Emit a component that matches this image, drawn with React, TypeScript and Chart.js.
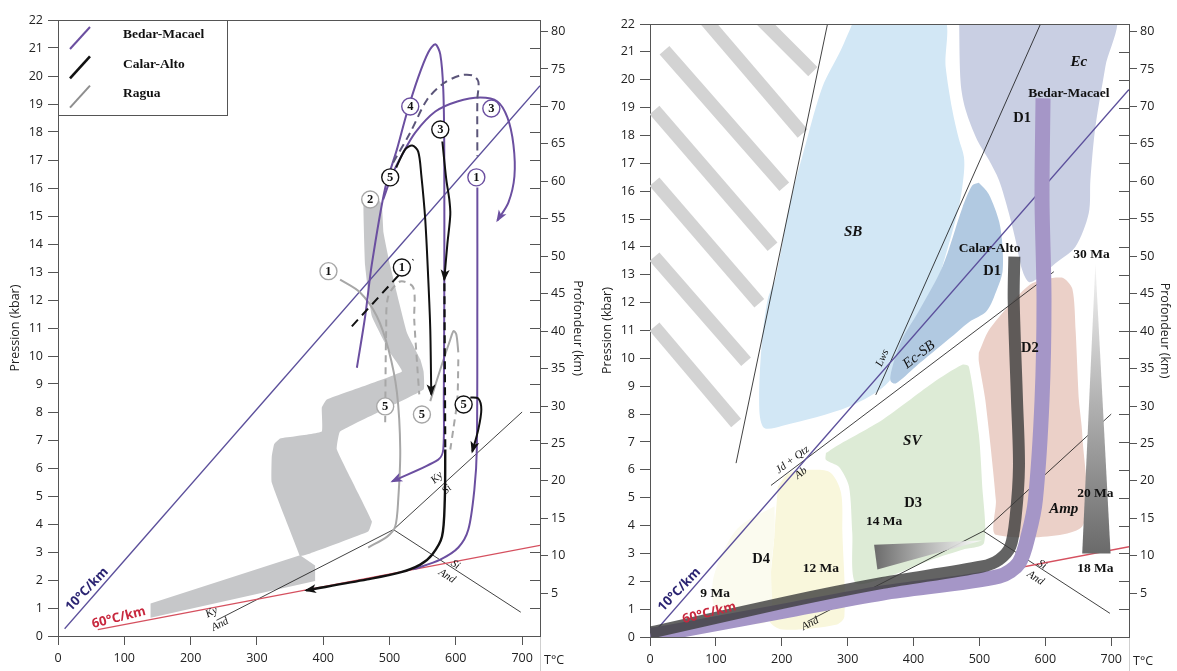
import React, { useEffect, useRef } from "react";
import { Chart, registerables } from "chart.js";

Chart.register(...registerables);

const SANS = '"Open Sans", "Noto Sans", "DejaVu Sans", sans-serif';
const SERIF = '"Liberation Serif", "DejaVu Serif", serif';

// ---------------- axes ----------------
const temperatureTicks = [0, 100, 200, 300, 400, 500, 600, 700];
const pressureTicks = [0, 1, 2, 3, 4, 5, 6, 7, 8, 9, 10, 11, 12, 13, 14, 15, 16, 17, 18, 19, 20, 21, 22];
const depthTicks = [5, 10, 15, 20, 25, 30, 35, 40, 45, 50, 55, 60, 65, 70, 75, 80];
const temperatureMax = 727;
const pressureMax = 22;

// ---------------- shared reference lines (T °C, P kbar) ----------------
const geotherm10 = [[10, 0.26], [727, 19.65]];
const geotherm60 = [[60, 0.23], [727, 3.24]];
const kyAndLine = [[239, 0.56], [506, 3.8]];
const kySilLine = [[506, 3.8], [700, 8.0]];
const andSilLine = [[506, 3.8], [698, 0.85]];

// ---------------- left panel: P-T paths ----------------
const raguaLowerBand = [[139.6, 0.65], [139.6, 1.16], [365.1, 2.88], [387.8, 2.52], [387.8, 1.96]];
const raguaUpperField = [
  [365.1, 2.85], [322.4, 5.48], [322.4, 6.4], [326, 6.85], [335, 7.05], [357.6, 7.13], [397.9, 7.3], [397.9, 8.16],
  [405.4, 8.45], [518.7, 9.45], [501.1, 10.11], [473.4, 11.42], [463.3, 13.21], [460.7, 15.35],
  [464.8, 15.59], [483.0, 15.59], [488.5, 15.41], [491.0, 14.4], [501.1, 13.21], [526.3, 10.83],
  [546.4, 9.88], [551.4, 9.45], [551.4, 8.8], [425.5, 7.3], [420.6, 6.66], [473.4, 4.1], [467.8, 3.73], [380.2, 2.95],
];

const bedarPath4 = [
  [450.8, 9.58], [463.3, 11.42], [473.3, 13.27], [493.5, 16.0], [511.2, 17.38], [526.3, 18.69], [543.3, 19.95],
  [558.4, 20.84], [569.1, 21.13], [576.6, 20.77], [581.1, 19.52], [582.6, 17.38], [582.6, 12.02], [581.9, 8.45],
  [581.1, 6.66], [573.6, 6.3], [504.1, 5.52],
];
const bedarPath3 = [
  [490.5, 15.59], [504.1, 16.48], [519.2, 17.2], [538.8, 17.98], [569.1, 18.73], [602.3, 19.09], [637.0, 19.23],
  [662.7, 19.09], [677.8, 18.52], [686.9, 17.55], [688.4, 16.41], [679.3, 15.48], [662.7, 14.84],
];
const bedarPath1 = [
  [632.5, 16.02], [632.5, 12.02], [631.7, 6.66], [628.0, 5.23], [618.9, 3.8], [603.8, 3.16], [576.6, 2.73], [535.8, 2.38],
];
const bedarDashed = [
  [505.6, 16.91], [531.3, 17.98], [556.9, 19.16], [581.1, 19.73], [606.8, 20.02], [625.0, 20.02], [634.0, 19.8],
  [632.5, 19.16], [632.5, 17.13],
];

const calarPath5 = [
  [510.1, 16.73], [523.7, 17.38], [534.3, 17.52], [543.3, 17.3], [547.9, 16.48], [553.9, 14.88], [558.5, 12.73],
  [561.5, 10.95], [563.0, 8.63],
];
const calarPath3a = [[579.7, 17.66], [585.7, 16.3], [590.2, 15.59], [591.7, 15.05], [587.2, 13.98], [582.6, 12.73]];
const calarPath3Dashed = [[582.8, 12.6], [584.1, 6.66]];
const calarPath3b = [
  [584.1, 6.66], [583.4, 4.88], [579.2, 3.55], [564.5, 2.91], [546.4, 2.55], [516.2, 2.27], [466.3, 2.02], [374.2, 1.63],
];
const calarHook = [[621.9, 8.52], [634.0, 8.48], [638.5, 8.09], [634.0, 7.38], [624.9, 6.59]];
const calarDashed1 = [[443.2, 11.06], [535.8, 13.45]];

const raguaPath1 = [
  [425.5, 12.73], [455.7, 12.27], [480.9, 11.42], [498.5, 10.23], [511.2, 8.7], [516.2, 6.66], [513.2, 4.88],
  [508.6, 3.91], [496.5, 3.55], [467.8, 3.16],
];
const raguaDashed1 = [
  [493.5, 7.63], [495.0, 10.95], [498.1, 12.13], [516.2, 12.66], [535.8, 12.45], [537.3, 11.3], [541.9, 9.63], [544.9, 8.63],
];
const raguaPath5 = [[561.5, 8.39], [576.6, 9.52], [591.7, 10.59], [596.7, 10.89], [600.8, 10.77], [603.8, 10.13]];
const raguaDashed5 = [[603.8, 9.88], [602.3, 8.45], [596.2, 7.38], [591.7, 6.66]];

const bedarCircles = [[531.3, 18.91], [653.6, 18.84], [631.0, 16.38]];
const bedarCircleNums = ["4", "3", "1"];
const calarCircles = [[576.6, 18.09], [501.1, 16.38], [518.7, 13.16], [611.8, 8.27]];
const calarCircleNums = ["3", "5", "1", "5"];
const raguaCircles = [[470.9, 15.59], [407.9, 13.03], [493.5, 8.2], [548.9, 7.91]];
const raguaCircleNums = ["2", "1", "5", "5"];

const legendNames = ["Bedar-Macael", "Calar-Alto", "Ragua"];

// ---------------- right panel: facies fields ----------------
const hatchBar1 = [[145.5, 22.7], [247.2, 20.29]];
const hatchBar2 = [[64.1, 22.7], [231.6, 18.07]];
const hatchBar3 = [[22.0, 21.06], [203.8, 16.16]];
const hatchBar4 = [[6.8, 18.91], [186.0, 14.01]];
const hatchBar5 = [[6.8, 16.34], [165.9, 11.98]];
const hatchBar6 = [[6.8, 13.65], [145.8, 9.88]];
const hatchBar7 = [[6.8, 11.14], [130.7, 7.68]];

const fieldSB = [
  [312.4, 22.3], [443.6, 22.3], [448.7, 20.47], [458.7, 18.93], [468.9, 17.86], [476.4, 17.24], [476.4, 16.64],
  [468.9, 15.45], [443.6, 13.29], [413.3, 11.01], [388.1, 10.66], [362.8, 9.17], [302.2, 8.27], [201.2, 7.58],
  [173.5, 7.5], [165.9, 8.16], [168.9, 10.31], [178.5, 12.1], [191.2, 12.93], [211.3, 15.45], [236.6, 17.72],
  [261.8, 19.75], [289.7, 21.07],
];
const fieldEc = [
  [469, 22.3], [703.7, 22.3], [691.1, 20.47], [676, 18.31], [668.4, 16.4], [665.9, 15.21], [645.7, 14.01],
  [615.4, 13.41], [590.2, 12.89], [575, 12.74], [564.8, 13.18], [554.8, 14.25], [544.7, 15.21], [529.5, 16.4],
  [514.4, 17.12], [496.7, 17.83], [479.1, 18.91], [471.5, 19.88],
];
const fieldEcSB = [
  [499, 16.3], [514, 15.9], [530, 14.9], [535, 14.0], [535, 13.1], [527, 12.5], [511, 11.7], [484, 11.3],
  [454, 10.7], [403, 9.7], [373, 9.1], [365, 9.2], [368, 9.7], [383, 10.7], [408, 11.7], [444, 13.3], [474, 15.4], [489, 16.2],
];
const fieldSV = [
  [267, 6.6], [282, 6.84], [353, 7.8], [428, 9.1], [474, 9.77], [484, 9.7], [499, 7.3], [504, 5.5], [507, 3.37],
  [474, 3.13], [428, 2.78], [363, 2.18], [312, 1.94], [307, 3.73], [302, 5.4], [287, 6.1], [267, 6.36],
];
const fieldAmp = [
  [499, 10.2], [514, 11.0], [545, 11.9], [580, 12.7], [625, 12.9], [641, 12.5], [646, 11.0], [651, 8.5],
  [656, 7.3], [656, 3.97], [525, 3.67], [525, 4.9], [509, 8.5], [499, 9.9],
];
const field12Ma = [
  [194, 5.4], [211, 5.88], [252, 6.0], [275, 5.88], [290, 5.17], [292, 3.73], [295, 0.74], [282, 0.44],
  [201, 0.27], [181, 0.62], [189, 3.73],
];
const field9Ma = [
  [189, 4.69], [136, 3.97], [110, 3.02], [95, 1.94], [100, 0.98], [141, 0.5], [181, 0.62], [184, 2.54], [189, 3.73],
];

const boundaryL1 = [[269.4, 22.0], [130.6, 6.24]];
const boundaryLws = [[592.7, 22.0], [342.7, 8.69]];
const boundaryJd = [[183.6, 5.44], [612.9, 13.11]];

const ageTriangle = [[676, 13.4], [699, 3.0], [656, 3.0]];
const ageWedge = [[340.1, 3.31], [503.8, 3.46], [345.1, 2.42]];

const bandBedar = [
  [596.5, 19.33], [595, 15.7], [598, 12.1], [595, 8.5], [585, 4.93], [575, 3.73], [560, 2.66], [530, 2.18],
  [353, 1.58], [201, 0.92], [25, 0.15], [0, 0.05],
];
const bandCalar = [
  [553, 13.65], [552, 12.1], [557, 8.5], [560, 6.12], [555, 4.33], [547, 3.25], [530, 2.78], [504, 2.53],
  [353, 1.94], [201, 1.22], [9, 0.2], [0, 0.16],
];

// ---------------- colours ----------------
const GEO10 = "#5b4f9b";
const GEO60 = "#d5505f";
const NAVY = "#2b2472";
const RED = "#c8283e";
const BEDAR = "#6b4fa0";
const BEDAR_DASH = "#5b5579";
const CALAR = "#111111";
const RAGUA = "#a7a7a7";
const RAGUA_FIELD = "#c6c7c9";

const pts = (arr: number[][]) => arr.map(([x, y]) => ({ x, y }));

function line(data: number[][], color: string, width: number, extra: any = {}) {
  return {
    type: "line", data: pts(data), borderColor: color, borderWidth: width, pointRadius: 0, pointHoverRadius: 0,
    pointHitRadius: 0, fill: false, tension: 0, xAxisID: "x", yAxisID: "y", clip: 0, ...extra,
  };
}
function area(data: number[][], color: any, tension = 0.3) {
  return {
    type: "line", data: pts([...data, data[0]]), borderColor: "rgba(0,0,0,0)", borderWidth: 0, backgroundColor: color,
    fill: "shape", pointRadius: 0, pointHoverRadius: 0, pointHitRadius: 0, tension, xAxisID: "x", yAxisID: "y", clip: 0,
  };
}
function circles(data: number[][], nums: string[], color: string) {
  return {
    type: "line", data: pts(data), showLine: false, pointRadius: 8.5, pointHoverRadius: 8.5, pointBackgroundColor: "#fff",
    pointBorderColor: color, pointBorderWidth: 1.4, nums, xAxisID: "x", yAxisID: "y", clip: 0,
  };
}
function verticalGradient(data: number[][], c0: string, c1: string) {
  const top = Math.max(...data.map((d) => d[1]));
  const bottom = Math.min(...data.map((d) => d[1]));
  return (ctx: any) => {
    const ch = ctx.chart;
    if (!ch.chartArea) return c1;
    const ys = ch.scales.y;
    const g = ch.ctx.createLinearGradient(0, ys.getPixelForValue(top), 0, ys.getPixelForValue(bottom));
    g.addColorStop(0, c0);
    g.addColorStop(1, c1);
    return g;
  };
}
function horizontalGradient(data: number[][], c0: string, c1: string) {
  const left = Math.min(...data.map((d) => d[0]));
  const right = Math.max(...data.map((d) => d[0]));
  return (ctx: any) => {
    const ch = ctx.chart;
    if (!ch.chartArea) return c0;
    const xs = ch.scales.x;
    const g = ch.ctx.createLinearGradient(xs.getPixelForValue(left), 0, xs.getPixelForValue(right), 0);
    g.addColorStop(0, c0);
    g.addColorStop(1, c1);
    return g;
  };
}

const font = (style: string, size: number, family: string) => `${style} ${size}px ${family}`;

// ---------------- plugins ----------------
function labelsPlugin(items: any[]) {
  return {
    id: "textLabels",
    afterDatasetsDraw(chart: any) {
      const { ctx, scales } = chart;
      items.forEach((it) => {
        ctx.save();
        ctx.translate(scales.x.getPixelForValue(it.x), scales.y.getPixelForValue(it.y));
        if (it.rot) ctx.rotate((it.rot * Math.PI) / 180);
        ctx.font = it.font;
        ctx.fillStyle = it.color || "#111";
        ctx.textAlign = "center";
        ctx.textBaseline = "middle";
        ctx.fillText(it.t, 0, 0);
        ctx.restore();
      });
    },
  };
}

const markersPlugin = {
  id: "markers",
  afterDatasetsDraw(chart: any) {
    const { ctx } = chart;
    chart.data.datasets.forEach((ds: any, i: number) => {
      const meta = chart.getDatasetMeta(i);
      if (ds.arrowEnd) {
        const p = meta.data;
        const n = p.length;
        const a = p[n - 1];
        const b = p[n - 2];
        const ang = Math.atan2(a.y - b.y, a.x - b.x);
        ctx.save();
        ctx.translate(a.x, a.y);
        ctx.rotate(ang);
        ctx.fillStyle = ds.borderColor;
        ctx.beginPath();
        ctx.moveTo(2, 0);
        ctx.lineTo(-10, -4.5);
        ctx.lineTo(-7, 0);
        ctx.lineTo(-10, 4.5);
        ctx.closePath();
        ctx.fill();
        ctx.restore();
      }
      if (ds.nums) {
        ctx.save();
        ctx.font = font("bold", 12.5, SERIF);
        ctx.fillStyle = "#111";
        ctx.textAlign = "center";
        ctx.textBaseline = "middle";
        meta.data.forEach((el: any, j: number) => ctx.fillText(ds.nums[j], el.x, el.y + 0.5));
        ctx.restore();
      }
    });
  },
};

const framePlugin = {
  id: "frame",
  afterDraw(chart: any) {
    const { ctx, chartArea: a, scales } = chart;
    ctx.save();
    ctx.strokeStyle = "#555";
    ctx.lineWidth = 1;
    ctx.beginPath();
    ctx.moveTo(a.left, Math.round(a.top) + 0.5);
    ctx.lineTo(a.right, Math.round(a.top) + 0.5);
    pressureTicks.forEach((v) => {
      if (v === 0 || v === pressureMax) return;
      const py = Math.round(scales.y.getPixelForValue(v)) + 0.5;
      ctx.moveTo(a.right - 10, py);
      ctx.lineTo(a.right, py);
    });
    ctx.stroke();
    ctx.strokeStyle = "#cfcfcf";
    ctx.beginPath();
    ctx.moveTo(Math.round(a.right) + 0.5, a.bottom + 1);
    ctx.lineTo(Math.round(a.right) + 0.5, chart.height);
    ctx.stroke();
    ctx.fillStyle = "#222";
    ctx.font = font("", 12.5, SANS);
    ctx.textAlign = "left";
    ctx.textBaseline = "middle";
    ctx.fillText("T°C", a.right + 4, a.bottom + 24);
    ctx.restore();
  },
};

const legendPlugin = {
  id: "legendBox",
  afterDatasetsDraw(chart: any) {
    const { ctx, chartArea: a } = chart;
    const x0 = Math.round(a.left);
    const y0 = Math.round(a.top);
    const colors = [BEDAR, CALAR, "#8e8e8e"];
    const widths = [2, 2.6, 2];
    ctx.save();
    ctx.fillStyle = "#fff";
    ctx.fillRect(x0, y0, 169, 95);
    ctx.strokeStyle = "#555";
    ctx.lineWidth = 1;
    ctx.strokeRect(x0 + 0.5, y0 + 0.5, 169, 95);
    legendNames.forEach((name, i) => {
      const cy = y0 + 18 + i * 29.3;
      ctx.strokeStyle = colors[i];
      ctx.lineWidth = widths[i];
      ctx.beginPath();
      ctx.moveTo(x0 + 12, cy + 11);
      ctx.lineTo(x0 + 32, cy - 11);
      ctx.stroke();
      ctx.fillStyle = "#111";
      ctx.font = font("bold", 13.5, SERIF);
      ctx.textAlign = "left";
      ctx.textBaseline = "middle";
      ctx.fillText(name, x0 + 65, cy - 3);
    });
    ctx.restore();
  },
};

// ---------------- chart config ----------------
function makeScales(g: any) {
  const tickFont = { family: SANS, size: 12.5 };
  return {
    x: {
      type: "linear", position: "bottom", min: 0, max: temperatureMax,
      afterBuildTicks: (s: any) => { s.ticks = temperatureTicks.map((v) => ({ value: v })); },
      afterFit: (s: any) => { s.height = g.xHeight; },
      ticks: { font: tickFont, color: "#222", padding: 6, maxRotation: 0, autoSkip: false },
      grid: { drawOnChartArea: false, drawTicks: true, tickLength: 9, color: "#555" },
      border: { display: true, color: "#555", width: 1 },
    },
    y: {
      type: "linear", position: "left", min: 0, max: pressureMax,
      afterBuildTicks: (s: any) => { s.ticks = pressureTicks.map((v) => ({ value: v })); },
      afterFit: (s: any) => { s.width = g.yWidth; },
      ticks: { font: tickFont, color: "#222", padding: 5, autoSkip: false },
      grid: { drawOnChartArea: false, drawTicks: true, tickLength: 10, color: "#555" },
      border: { display: true, color: "#555", width: 1 },
      title: { display: true, text: "Pression (kbar)", color: "#222", font: { family: SANS, size: 12.5 }, padding: { top: g.yTitlePad, bottom: 0 } },
    },
    yd: {
      type: "linear", position: "right", min: g.depthMin, max: g.depthMax,
      afterBuildTicks: (s: any) => { s.ticks = depthTicks.map((v) => ({ value: v })); },
      afterFit: (s: any) => { s.width = g.ydWidth; },
      ticks: { font: tickFont, color: "#222", padding: 3, autoSkip: false },
      grid: { drawOnChartArea: false, drawTicks: true, tickLength: 8, color: "#555" },
      border: { display: true, color: "#555", width: 1 },
      title: { display: true, text: "Profondeur (km)", color: "#222", font: { family: SANS, size: 12.5 }, padding: { top: g.ydTitlePad, bottom: 0 } },
    },
  };
}

function makeConfig(datasets: any[], g: any, plugins: any[]) {
  return {
    type: "line",
    data: { datasets: datasets.map((d, i) => ({ ...d, order: -i })) },
    options: {
      responsive: false,
      animation: false,
      events: [],
      layout: { padding: { top: g.top, left: 0, right: 0, bottom: 0 } },
      plugins: { legend: { display: false }, tooltip: { enabled: false } },
      scales: makeScales(g),
    },
    plugins: [framePlugin, markersPlugin, ...plugins],
  };
}

const B13 = font("bold", 13.5, SERIF);
const B14 = font("bold", 14.5, SERIF);
const BI15 = font("italic bold", 15, SERIF);
const I11 = font("italic", 11, SERIF);
const I14 = font("italic", 14.5, SERIF);
const GEOFONT = font("bold", 13, SANS);

const leftLabels = [
  { t: "10°C/km", x: 43.8, y: 1.66, rot: -46, font: GEOFONT, color: NAVY },
  { t: "60°C/km", x: 91.8, y: 0.65, rot: -14, font: GEOFONT, color: RED },
  { t: "Ky", x: 231.7, y: 0.84, rot: -27, font: I11 },
  { t: "And", x: 244.3, y: 0.41, rot: -27, font: I11 },
  { t: "Ky", x: 571.6, y: 5.65, rot: -43, font: I11 },
  { t: "Si", x: 586.7, y: 5.23, rot: -43, font: I11 },
  { t: "Si", x: 599.3, y: 2.55, rot: 33, font: I11 },
  { t: "And", x: 586.7, y: 2.14, rot: 33, font: I11 },
];

const rightLabels = [
  { t: "SB", x: 308.3, y: 14.53, font: BI15 },
  { t: "Ec", x: 650.7, y: 20.64, font: BI15 },
  { t: "Bedar-Macael", x: 635.6, y: 19.49, font: B13 },
  { t: "D1", x: 564.8, y: 18.62, font: B14 },
  { t: "Calar-Alto", x: 515.4, y: 13.95, font: B13 },
  { t: "D1", x: 519.3, y: 13.11, font: B14 },
  { t: "30 Ma", x: 670, y: 13.71, font: B13 },
  { t: "Lws", x: 352.7, y: 10.01, rot: -66, font: I11 },
  { t: "Ec-SB", x: 408.3, y: 10.13, rot: -38, font: I14 },
  { t: "D2", x: 576.5, y: 10.37, font: B14 },
  { t: "SV", x: 398.1, y: 7.02, font: BI15 },
  { t: "Jd + Qtz", x: 216.3, y: 6.36, rot: -37, font: I11 },
  { t: "Ab", x: 229.1, y: 5.88, rot: -37, font: I11 },
  { t: "D3", x: 399.2, y: 4.81, font: B14 },
  { t: "14 Ma", x: 355.3, y: 4.15, font: B13 },
  { t: "20 Ma", x: 676, y: 5.14, font: B13 },
  { t: "Amp", x: 628, y: 4.59, font: BI15 },
  { t: "18 Ma", x: 676, y: 2.44, font: B13 },
  { t: "D4", x: 168.5, y: 2.78, font: B14 },
  { t: "12 Ma", x: 259.4, y: 2.44, font: B13 },
  { t: "9 Ma", x: 98.8, y: 1.55, font: B13 },
  { t: "10°C/km", x: 44.7, y: 1.7, rot: -46, font: GEOFONT, color: NAVY },
  { t: "60°C/km", x: 90.1, y: 0.86, rot: -14, font: GEOFONT, color: RED },
  { t: "Si", x: 595, y: 2.6, rot: 33, font: I11 },
  { t: "And", x: 585, y: 2.12, rot: 33, font: I11 },
  { t: "And", x: 243, y: 0.48, rot: -27, font: I11 },
];

const leftGeom = { top: 20, xHeight: 35, yWidth: 58, ydWidth: 48, depthMin: -0.71, depthMax: 81.54, yTitlePad: 8, ydTitlePad: 3 };
const rightGeom = { top: 24, xHeight: 34, yWidth: 62, ydWidth: 48, depthMin: -0.84, depthMax: 81.0, yTitlePad: 12, ydTitlePad: 5 };

function buildLeft() {
  const datasets = [
    area(raguaLowerBand, RAGUA_FIELD, 0),
    area(raguaUpperField, RAGUA_FIELD, 0.1),
    line(kyAndLine, "#111", 0.8),
    line(kySilLine, "#111", 0.8),
    line(andSilLine, "#111", 0.8),
    line(geotherm10, GEO10, 1.3),
    line(geotherm60, GEO60, 1.3),
    line(raguaPath1, RAGUA, 2, { tension: 0.3 }),
    line(raguaDashed1, RAGUA, 2, { tension: 0.3, borderDash: [7, 5] }),
    line(raguaPath5, RAGUA, 2, { tension: 0.3 }),
    line(raguaDashed5, RAGUA, 2, { tension: 0.3, borderDash: [7, 5] }),
    line(bedarPath4, BEDAR, 2, { tension: 0.3, arrowEnd: true }),
    line(bedarPath3, BEDAR, 2, { tension: 0.3, arrowEnd: true }),
    line(bedarPath1, BEDAR, 2, { tension: 0.3 }),
    line(bedarDashed, BEDAR_DASH, 2, { tension: 0.3, borderDash: [8, 5] }),
    line(calarPath5, CALAR, 2, { tension: 0.3, arrowEnd: true }),
    line(calarPath3a, CALAR, 2, { tension: 0.3, arrowEnd: true }),
    line(calarPath3Dashed, CALAR, 2.2, { borderDash: [8, 5] }),
    line(calarPath3b, CALAR, 2.4, { tension: 0.3, arrowEnd: true }),
    line(calarHook, CALAR, 2, { tension: 0.3, arrowEnd: true }),
    line(calarDashed1, CALAR, 2, { borderDash: [9, 6] }),
    circles(raguaCircles, raguaCircleNums, RAGUA),
    circles(bedarCircles, bedarCircleNums, BEDAR),
    circles(calarCircles, calarCircleNums, CALAR),
  ];
  return makeConfig(datasets, leftGeom, [labelsPlugin(leftLabels), legendPlugin]);
}

function buildRight() {
  const hatch = "#d3d3d3";
  const datasets = [
    line(hatchBar1, hatch, 13),
    line(hatchBar2, hatch, 13),
    line(hatchBar3, hatch, 13),
    line(hatchBar4, hatch, 13),
    line(hatchBar5, hatch, 13),
    line(hatchBar6, hatch, 13),
    line(hatchBar7, hatch, 13),
    area(fieldSB, "#d2e7f5", 0.3),
    area(fieldEc, "#c9cfe3", 0.3),
    area(fieldEcSB, "#b1c9e1", 0.3),
    area(fieldSV, "#ddebd6", 0.25),
    area(fieldAmp, "#ebd0c8", 0.25),
    area(field12Ma, "#f9f7dc", 0.3),
    area(field9Ma, "#fbfbef", 0.3),
    line(boundaryL1, "#111", 0.8),
    line(boundaryLws, "#111", 0.8),
    line(boundaryJd, "#111", 0.8),
    line(kyAndLine, "#111", 0.8),
    line(kySilLine, "#111", 0.8),
    line(andSilLine, "#111", 0.8),
    line(geotherm10, GEO10, 1.3),
    line(geotherm60, GEO60, 1.3),
    area(ageWedge, horizontalGradient(ageWedge, "#6b6b6b", "rgba(255,255,255,0.9)"), 0),
    area(ageTriangle, verticalGradient(ageTriangle, "#f4f4f4", "#6a6a6a"), 0),
    line(bandBedar, "#a596c7", 15, { tension: 0.3, borderJoinStyle: "round" }),
    line(bandCalar, "rgba(60,60,60,0.8)", 12, { tension: 0.3, borderJoinStyle: "round" }),
  ];
  return makeConfig(datasets, rightGeom, [labelsPlugin(rightLabels)]);
}

function PanelCanvas({ left, width, build }: { left: number; width: number; build: () => any }) {
  const ref = useRef<HTMLCanvasElement>(null);
  useEffect(() => {
    const chart = new Chart(ref.current as HTMLCanvasElement, build() as any);
    return () => chart.destroy();
  }, []);
  return (
    <div style={{ position: "absolute", left, top: 0, width, height: 671 }}>
      <canvas ref={ref} width={width} height={671} style={{ display: "block", width, height: 671 }} />
    </div>
  );
}

export default function App() {
  return (
    <div style={{ position: "fixed", left: 0, top: 0, width: 1177, height: 671, background: "#fff", overflow: "hidden" }}>
      <PanelCanvas left={0} width={588} build={buildLeft} />
      <PanelCanvas left={588} width={589} build={buildRight} />
    </div>
  );
}
